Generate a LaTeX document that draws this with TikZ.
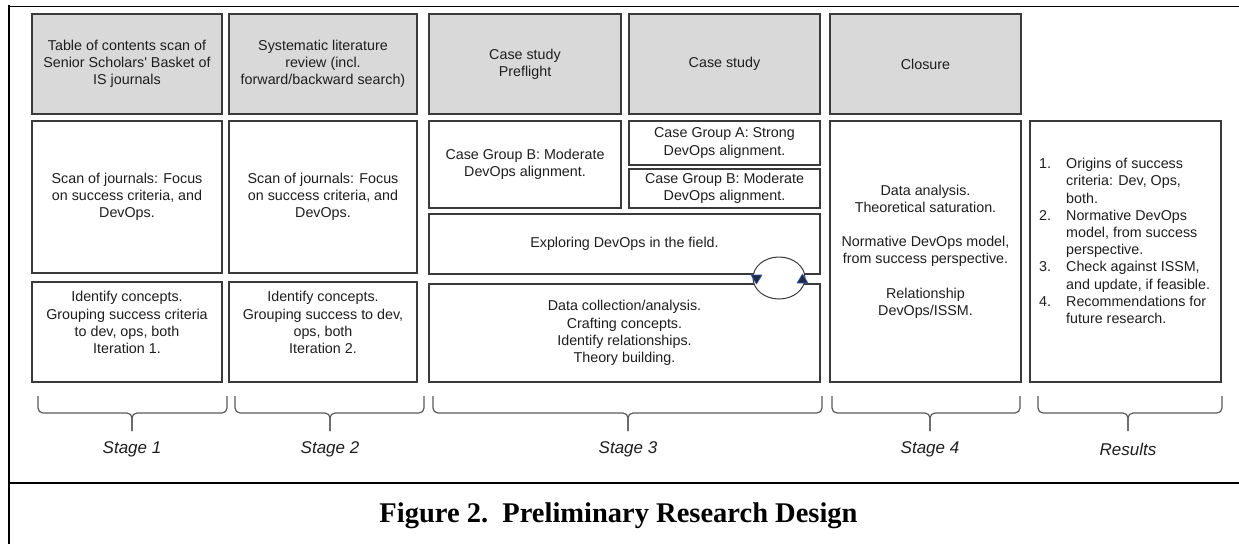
\documentclass[tikz,border=0pt]{standalone}
\usepackage{fontspec}
\setmainfont{Liberation Sans}
\newfontfamily\capfont{Liberation Serif}
\usetikzlibrary{shapes.geometric}
\definecolor{boxline}{HTML}{3A3A3A}
\definecolor{hdrfill}{HTML}{D9D9D9}
\definecolor{arrfill}{HTML}{1C2B4A}
\definecolor{arrline}{HTML}{3D5DA8}
\definecolor{bracecol}{HTML}{5A5A5A}
\definecolor{txtcol}{HTML}{1E1E1E}
\begin{document}
\begin{tikzpicture}[x=1pt,y=-1pt,
  every node/.style={text=txtcol, font=\fontsize{14.3}{17.2}\selectfont},
  box/.style={draw=boxline, line width=1.3pt, fill=white, inner sep=0pt, align=center},
  hdr/.style={box, fill=hdrfill},
  txt/.style={inner sep=0pt, align=center},
  brace/.style={draw=bracecol, line width=1.2pt, rounded corners=5pt},
  stagelbl/.style={font=\fontsize{17}{20}\selectfont\itshape, inner sep=0pt},
  loopring/.style={ellipse, draw=boxline, line width=1pt, fill=white, minimum width=52pt, minimum height=42pt, inner sep=0pt},
  looptip/.style={fill=arrfill, draw=arrline, line width=0.6pt, line join=round},
  framerule/.style={draw=black}
]
\useasboundingbox (0,0) rectangle (1239,544);
\fill[white] (0,0) rectangle (1239,544);

% frame
\draw[framerule, line width=1pt] (9,6) -- (1239,6);
\draw[framerule, line width=2pt] (9,5) -- (9,544);
\draw[framerule, line width=2.5pt] (9,483) -- (1239,483);

% headers
\node[hdr, minimum width=190pt, minimum height=100pt] (h1) at (127,64) {Table of contents scan of\\Senior Scholars\textquotesingle\ Basket of\\IS journals};
\node[hdr, minimum width=188pt, minimum height=100pt] (h2) at (323,64) {Systematic literature\\review (incl.\\forward/backward search)};
\node[hdr, minimum width=192pt, minimum height=100pt] (h3) at (525,64) {Case study\\Preflight};
\node[hdr, minimum width=191pt, minimum height=100pt] (h4) at (724.5,64) {Case study};
\node[hdr, minimum width=191pt, minimum height=100pt] (h5) at (925.5,64) {Closure};

% row 2
\node[box, minimum width=190pt, minimum height=152pt] (s1) at (127,197) {Scan of journals: Focus\\on success criteria, and\\DevOps.};
\node[box, minimum width=188pt, minimum height=152pt] (s2) at (323,197) {Scan of journals: Focus\\on success criteria, and\\DevOps.};
\node[box, minimum width=192pt, minimum height=87pt] (cgb1) at (525,164.5) {Case Group B: Moderate\\DevOps alignment.};
\node[box, minimum width=191pt, minimum height=44pt] (cga) at (724.5,143) {Case Group A: Strong\\DevOps alignment.};
\node[box, minimum width=191pt, minimum height=39pt] (cgb2) at (724.5,188.5) {Case Group B: Moderate\\DevOps alignment.};
\node[box, minimum width=391pt, minimum height=60pt] (expl) at (624.5,244) {Exploring DevOps in the field.};

% row 3
\node[box, minimum width=190pt, minimum height=100pt] (i1) at (127,332) {};
\node[txt, yshift=9.5pt] (i1t) at (i1.center) {Identify concepts.\\Grouping success criteria\\to dev, ops, both\\Iteration 1.};
\node[box, minimum width=188pt, minimum height=100pt] (i2) at (323,332) {};
\node[txt, yshift=9.5pt] (i2t) at (i2.center) {Identify concepts.\\Grouping success to dev,\\ops, both\\Iteration 2.};
\node[box, minimum width=391pt, minimum height=98pt] (dc) at (624.5,333) {Data collection/analysis.\\Crafting concepts.\\Identify relationships.\\Theory building.};

% stage 4 and results
\node[box, minimum width=191pt, minimum height=261pt] (da) at (925.5,251.5) {Data analysis.\\Theoretical saturation.\\[17.2pt]Normative DevOps model,\\from success perspective.\\[17.2pt]Relationship\\DevOps/ISSM.};
\node[box, minimum width=191pt, minimum height=261pt] (res) at (1125.5,251.5) {};
\node[txt, align=left, anchor=west] (rest) at (1039,241) {\makebox[27pt][l]{1.}Origins of success\\
\hspace*{27pt}criteria: Dev, Ops,\\
\hspace*{27pt}both.\\
\makebox[27pt][l]{2.}Normative DevOps\\
\hspace*{27pt}model, from success\\
\hspace*{27pt}perspective.\\
\makebox[27pt][l]{3.}Check against ISSM,\\
\hspace*{27pt}and update, if feasible.\\
\makebox[27pt][l]{4.}Recommendations for\\
\hspace*{27pt}future research.};

% iteration loop
\node[loopring] (loop) at (779,278) {};
\path[looptip] ([shift={(-1.5,-3)}]loop.west) -- ([shift={(9.5,-3)}]loop.west) -- ([shift={(4,6)}]loop.west) -- cycle;
\path[looptip] ([shift={(-8.5,5)}]loop.east) -- ([shift={(2.5,5)}]loop.east) -- ([shift={(-3,-4)}]loop.east) -- cycle;

% braces and stage labels
\foreach \a/\b/\m/\lab/\nm in {38/227/132/Stage 1/st1, 235/424/330/Stage 2/st2, 433/822/628/Stage 3/st3, 832/1020/930/Stage 4/st4, 1038/1222/1128/Results/res5}{
  \draw[brace] (\a,396) -- (\a,413) -- (\m,413) -- (\m,431);
  \draw[brace] (\b,396) -- (\b,413) -- (\m,413) -- (\m,431);
  \node[stagelbl] (\nm) at (\m,449) {\lab};
}

% caption
\node[font=\capfont\bfseries\fontsize{28.5}{32}\selectfont, text=black, anchor=base, inner sep=0pt] (cap) at (618.5,522) {Figure 2.\ \ Preliminary Research Design};
\end{tikzpicture}
\end{document}
